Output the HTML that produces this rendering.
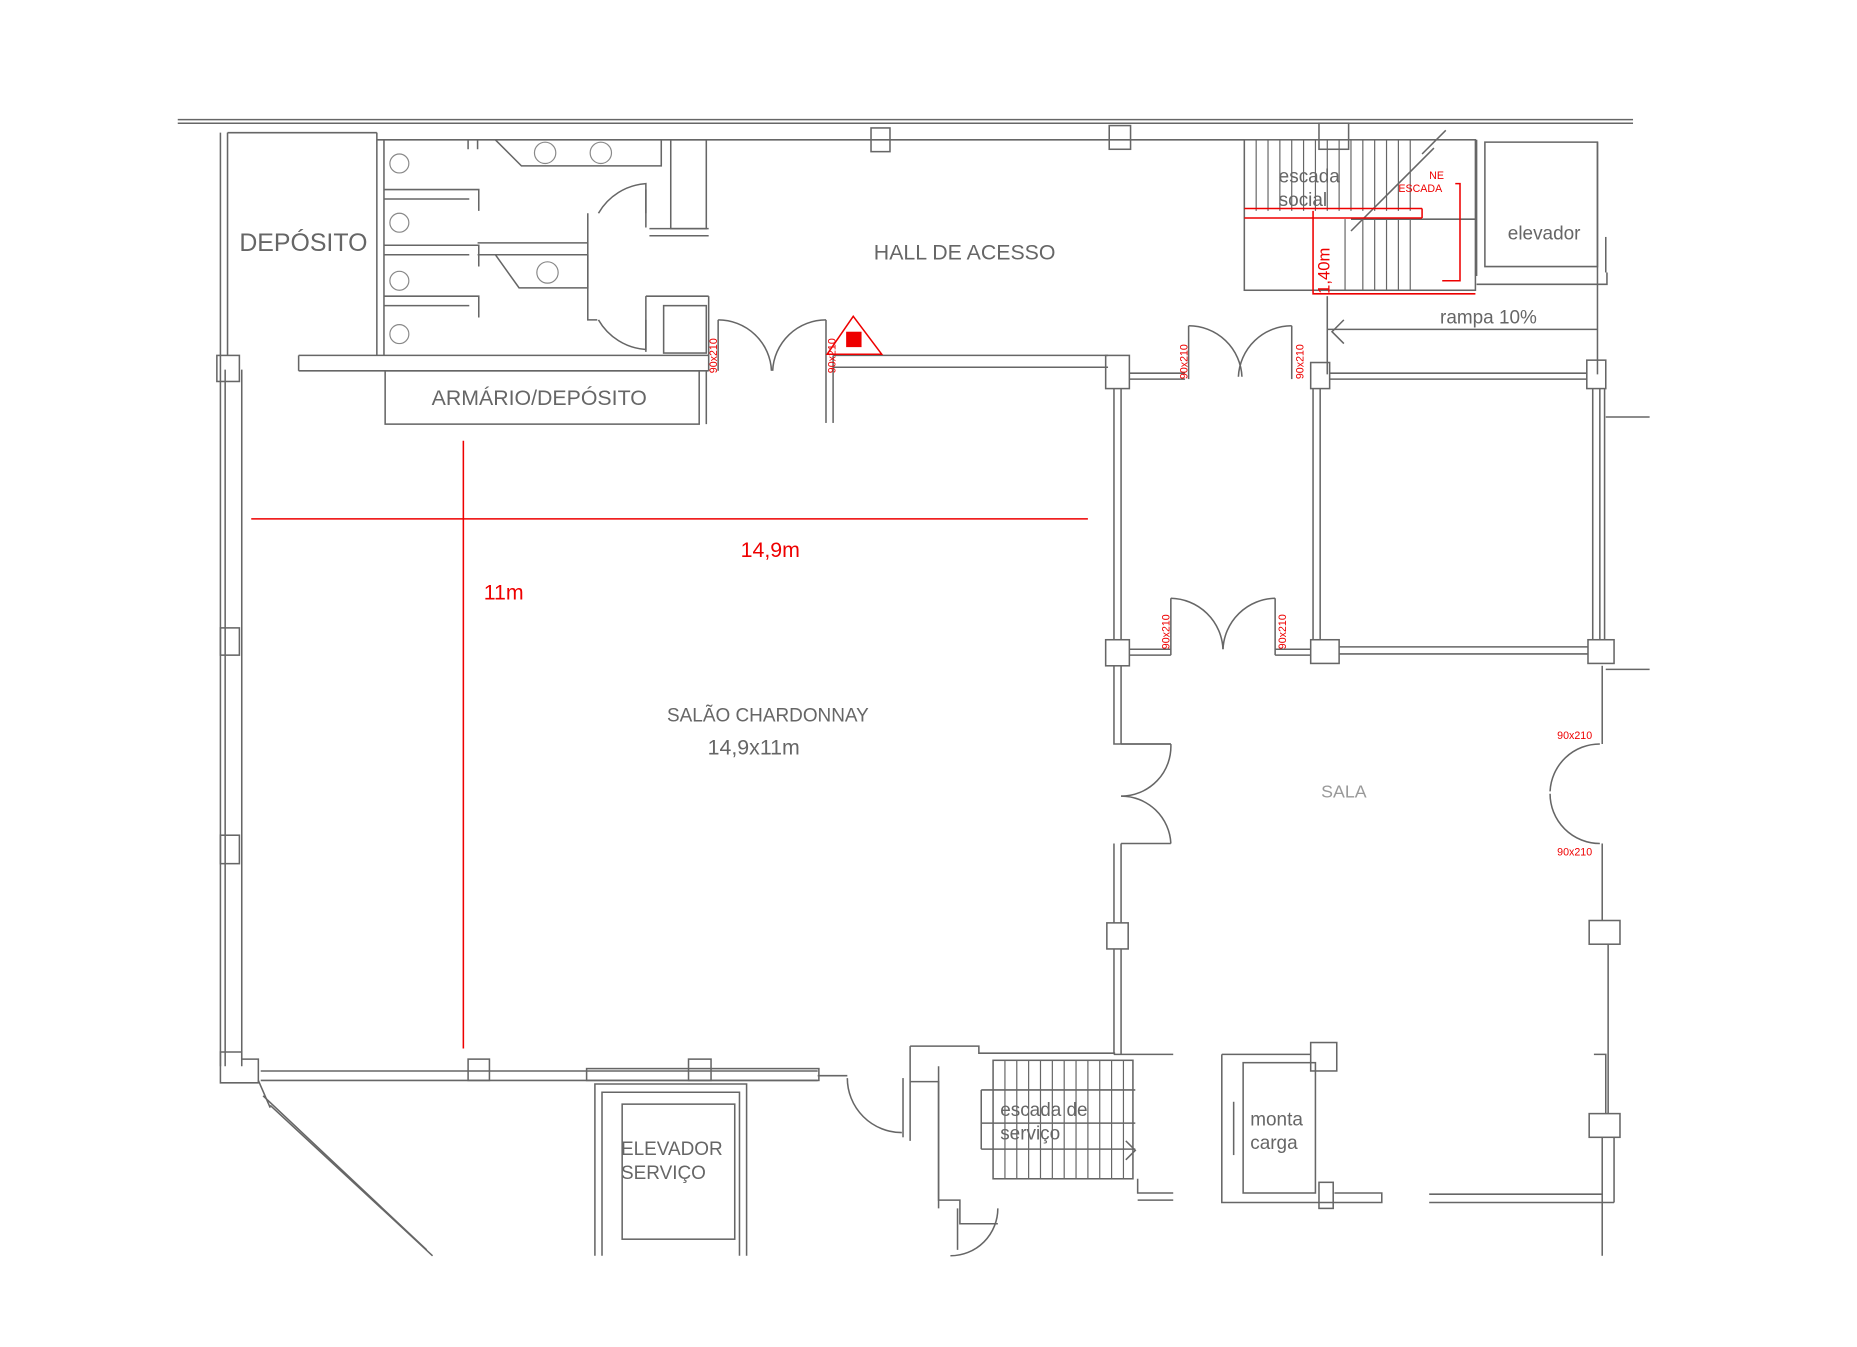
<!DOCTYPE html>
<html><head><meta charset="utf-8"><style>
html,body{margin:0;padding:0;background:#fff;width:1857px;height:1347px;overflow:hidden}
svg{display:block}
text{font-family:"Liberation Sans",sans-serif;fill:#666}
</style></head><body>
<svg width="1857" height="1347" viewBox="0 0 1567 1137" preserveAspectRatio="none" xmlns="http://www.w3.org/2000/svg">
<g fill="none" stroke="#666" stroke-width="1.3">
<line x1="150" y1="101" x2="1378" y2="101"/><line x1="150" y1="104" x2="1378" y2="104"/>
<line x1="318" y1="118" x2="1050" y2="118"/>
<line x1="186" y1="112" x2="186" y2="900"/><line x1="192" y1="112" x2="192" y2="300"/>
<line x1="190" y1="312" x2="190" y2="900"/><line x1="204" y1="312" x2="204" y2="900"/>
<rect x="183" y="300" width="19" height="22"/><rect x="186" y="530" width="16" height="23"/><rect x="186" y="705" width="16" height="24"/>
<path d="M186 888 h18 v6 h14 v20 h-32 z"/>
<line x1="192" y1="112" x2="318" y2="112"/><line x1="318" y1="112" x2="318" y2="300"/>
<line x1="324" y1="118" x2="324" y2="300"/>
<path d="M324 160 h80 v18"/><path d="M324 168 h72"/><path d="M324 207 h80 v18"/><path d="M324 215 h72"/>
<path d="M324 250 h80 v18"/><path d="M324 258 h72"/>
<path d="M395 118 v8 M403 118 v8"/>
<path d="M418 118 l22 22 h118 v-22"/><path d="M418 215 l20 28 h58 v-28"/>
<line x1="403" y1="205" x2="496" y2="205"/><line x1="403" y1="215" x2="496" y2="215"/>
<path d="M496 180 v90 h8"/><path d="M505 180 a50 50 0 0 1 40 -25 v25"/><path d="M505 270 a50 50 0 0 0 40 25 v-25"/>
<path d="M545 160 v32 M545 250 v47"/>
<rect x="566" y="118" width="30" height="75"/><line x1="548" y1="193" x2="598" y2="193"/><line x1="548" y1="199" x2="598" y2="199"/>
<rect x="560" y="258" width="36" height="40"/><line x1="545" y1="250" x2="598" y2="250"/>
<line x1="252" y1="300" x2="598" y2="300"/><line x1="252" y1="313" x2="598" y2="313"/><line x1="252" y1="300" x2="252" y2="313"/>
<rect x="325" y="313" width="265" height="45"/><line x1="596" y1="313" x2="596" y2="358"/>
<line x1="598" y1="250" x2="598" y2="313"/><line x1="606" y1="270" x2="606" y2="313"/>
<path d="M606 270 a45 45 0 0 1 45 43"/><path d="M697 270 a45 45 0 0 0 -45 43"/>
<line x1="697" y1="270" x2="697" y2="357"/><line x1="703" y1="300" x2="703" y2="357"/>
<line x1="703" y1="300" x2="935" y2="300"/><line x1="703" y1="310" x2="935" y2="310"/>
<rect x="735" y="108" width="16" height="20"/><rect x="936" y="106" width="18" height="20"/><rect x="1113" y="104" width="25" height="22"/>
<rect x="933" y="300" width="20" height="28"/><rect x="1106" y="306" width="16" height="22"/><rect x="1339" y="304" width="16" height="24"/>
<rect x="933" y="540" width="20" height="22"/><rect x="1106" y="540" width="24" height="20"/><rect x="1340" y="540" width="22" height="20"/>
<rect x="934" y="779" width="18" height="22"/><rect x="1341" y="777" width="26" height="20"/><rect x="1341" y="940" width="26" height="20"/>
<rect x="1106" y="880" width="22" height="24"/><rect x="1113" y="998" width="12" height="22"/>
<rect x="395" y="894" width="18" height="18"/><rect x="581" y="894" width="19" height="18"/>
<line x1="953" y1="315" x2="1000" y2="315"/><line x1="953" y1="320" x2="1000" y2="320"/>
<path d="M1003 275 a45 45 0 0 1 45 43"/><path d="M1090 275 a45 45 0 0 0 -45 43"/>
<line x1="1003" y1="275" x2="1003" y2="320"/><line x1="1090" y1="275" x2="1090" y2="320"/>
<line x1="1122" y1="315" x2="1339" y2="315"/><line x1="1122" y1="320" x2="1339" y2="320"/>
<line x1="940" y1="328" x2="940" y2="540"/><line x1="946" y1="328" x2="946" y2="540"/>
<line x1="1108" y1="328" x2="1108" y2="540"/><line x1="1114" y1="328" x2="1114" y2="540"/>
<line x1="1344" y1="328" x2="1344" y2="540"/><line x1="1350" y1="328" x2="1350" y2="540"/><line x1="1354" y1="328" x2="1354" y2="540"/>
<line x1="1355" y1="352" x2="1392" y2="352"/><line x1="1355" y1="565" x2="1392" y2="565"/>
<line x1="953" y1="548" x2="988" y2="548"/><line x1="953" y1="553" x2="988" y2="553"/>
<path d="M988 505 v48 M988 505 a45 45 0 0 1 44 43"/><path d="M1076 505 v48 M1076 505 a45 45 0 0 0 -44 43"/>
<line x1="1076" y1="548" x2="1106" y2="548"/><line x1="1076" y1="553" x2="1106" y2="553"/>
<line x1="1130" y1="546" x2="1340" y2="546"/><line x1="1130" y1="552" x2="1340" y2="552"/>
<path d="M940 562 v66 h48 v0"/><path d="M946 562 v66"/><path d="M946 628 h42 M946 712 h42"/>
<path d="M988 628 a42 42 0 0 1 -42 44"/><path d="M988 712 a42 42 0 0 0 -42 -40"/>
<line x1="940" y1="712" x2="940" y2="779"/><line x1="946" y1="712" x2="946" y2="779"/>
<line x1="940" y1="801" x2="940" y2="890"/><line x1="946" y1="801" x2="946" y2="890"/>
<line x1="1352" y1="562" x2="1352" y2="628"/><line x1="1352" y1="712" x2="1352" y2="777"/>
<path d="M1350 628 a42 42 0 0 0 -42 40"/><path d="M1350 712 a42 42 0 0 1 -42 -42"/>
<line x1="1357" y1="797" x2="1357" y2="940"/><line x1="1352" y1="960" x2="1352" y2="1060"/><line x1="1362" y1="960" x2="1362" y2="1015"/>
<path d="M1345 890 h10 v50"/>
<line x1="220" y1="904" x2="690" y2="904"/><line x1="220" y1="912" x2="690" y2="912"/>
<rect x="495" y="902" width="196" height="10"/>
<line x1="222" y1="925" x2="360" y2="1055"/><line x1="228" y1="933" x2="365" y2="1060"/><line x1="218" y1="912" x2="228" y2="935"/>
<path d="M502 1060 v-145 h128 v145"/><path d="M508 1060 v-138 h116 v138"/>
<rect x="525" y="932" width="95" height="114"/>
<path d="M715 910 a46 46 0 0 0 46 46"/><line x1="762" y1="910" x2="762" y2="960"/><line x1="690" y1="908" x2="715" y2="908"/>
<path d="M768 883 h58 v6 h115 M768 883 v30 h24 v100 h18 v20 h32 M768 913 v50"/>
<path d="M792 900 v120"/><path d="M808 1020 v35"/><path d="M842 1020 a40 40 0 0 1 -40 40"/>
<rect x="838" y="895" width="118" height="100"/>
<line x1="828" y1="920" x2="958" y2="920"/><line x1="828" y1="948" x2="958" y2="948"/><line x1="828" y1="970" x2="958" y2="970"/><line x1="828" y1="920" x2="828" y2="970"/>
<path d="M950 963 l8 8 l-8 8"/>
<line x1="940" y1="890" x2="990" y2="890"/><path d="M960 995 v12 h30"/><path d="M960 1013 h30"/>
<path d="M1031 890 v125 h135 v-8 h-40 M1031 890 h75"/><rect x="1049" y="897" width="61" height="110"/><line x1="1041" y1="930" x2="1041" y2="975"/>
<line x1="1206" y1="1008" x2="1352" y2="1008"/><line x1="1206" y1="1015" x2="1362" y2="1015"/>
<rect x="1050" y="118" width="195" height="127"/>
<path d="M1246 118 v115 M1246 240 h110 v-10 M1253 120 h95 v105 h-95 z"/>
<line x1="1348" y1="120" x2="1348" y2="316"/><line x1="1355" y1="200" x2="1355" y2="230"/>
<line x1="1120" y1="250" x2="1120" y2="316"/><line x1="1120" y1="278" x2="1348" y2="278"/>
<path d="M1134 270 l-10 10 l10 10"/>
<line x1="1140" y1="195" x2="1210" y2="125"/><line x1="1200" y1="130" x2="1220" y2="110"/>
<line x1="1140" y1="185" x2="1245" y2="185"/>
</g>
<g stroke="#666" stroke-width="1">
<path d="M1060 118v60M1070 118v60M1080 118v60M1090 118v60M1100 118v60M1110 118v60M1120 118v60M1130 118v60M1140 118v60M1150 118v60M1160 118v60M1170 118v60M1180 118v60M1190 118v60M1150 185v60M1160 185v60M1170 185v60M1180 185v60M1190 185v60M1135 185v60"/>
<path d="M848 895v100M858 895v100M868 895v100M878 895v100M888 895v100M898 895v100M908 895v100M918 895v100M928 895v100M938 895v100M948 895v100"/>
</g>
<g fill="none" stroke="#888">
<circle cx="337" cy="138" r="8"/><circle cx="337" cy="188" r="8"/><circle cx="337" cy="237" r="8"/><circle cx="337" cy="282" r="8"/>
<circle cx="460" cy="129" r="9"/><circle cx="507" cy="129" r="9"/><circle cx="462" cy="230" r="9"/>
</g>
<g stroke="#e00" fill="none" stroke-width="1.3">
<line x1="212" y1="438" x2="918" y2="438"/><line x1="391" y1="372" x2="391" y2="885"/>
<line x1="1050" y1="176" x2="1200" y2="176"/><line x1="1050" y1="184" x2="1200" y2="184"/><line x1="1200" y1="176" x2="1200" y2="184"/>
<path d="M1108 178 v70 h137 M1228 155 h4 v82 h-15"/>
<path d="M720 267 l24 32 h-46 z"/>
</g>
<rect x="714" y="280" width="13" height="13" fill="#e00"/>
<g font-size="9">
<text x="605" y="315" transform="rotate(-90 605 315)" style="fill:#e00">90x210</text>
<text x="705" y="315" transform="rotate(-90 705 315)" style="fill:#e00">90x210</text>
<text x="1002" y="320" transform="rotate(-90 1002 320)" style="fill:#e00">90x210</text>
<text x="1100" y="320" transform="rotate(-90 1100 320)" style="fill:#e00">90x210</text>
<text x="987" y="548" transform="rotate(-90 987 548)" style="fill:#e00">90x210</text>
<text x="1085" y="548" transform="rotate(-90 1085 548)" style="fill:#e00">90x210</text>
<text x="1314" y="624" style="fill:#e00">90x210</text><text x="1314" y="722" style="fill:#e00">90x210</text>
<text x="1180" y="162" style="fill:#e00">ESCADA</text><text x="1206" y="151" style="fill:#e00">NE</text>
</g>
<text x="1122" y="248" font-size="14" transform="rotate(-90 1122 248)" style="fill:#e00">1,40m</text>
<text x="650" y="470" font-size="18" text-anchor="middle" style="fill:#e00">14,9m</text>
<text x="425" y="506" font-size="18" text-anchor="middle" style="fill:#e00">11m</text>
<g text-anchor="middle">
<text x="256" y="212" font-size="21">DEPÓSITO</text>
<text x="455" y="342" font-size="18">ARMÁRIO/DEPÓSITO</text>
<text x="814" y="219" font-size="18">HALL DE ACESSO</text>
<text x="648" y="609" font-size="16">SALÃO CHARDONNAY</text>
<text x="636" y="637" font-size="18">14,9x11m</text>
<text x="1134" y="673" font-size="15" style="fill:#999">SALA</text>
<text x="1303" y="202" font-size="16">elevador</text>
<text x="1256" y="273" font-size="16">rampa 10%</text>
</g>
<text x="1079" y="154" font-size="16">escada</text><text x="1079" y="174" font-size="16">social</text>
<text x="524" y="975" font-size="16">ELEVADOR</text><text x="524" y="995" font-size="16">SERVIÇO</text>
<text x="844" y="942" font-size="16">escada de</text><text x="844" y="962" font-size="16">serviço</text>
<text x="1055" y="950" font-size="16">monta</text><text x="1055" y="970" font-size="16">carga</text>
</svg>
</body></html>
